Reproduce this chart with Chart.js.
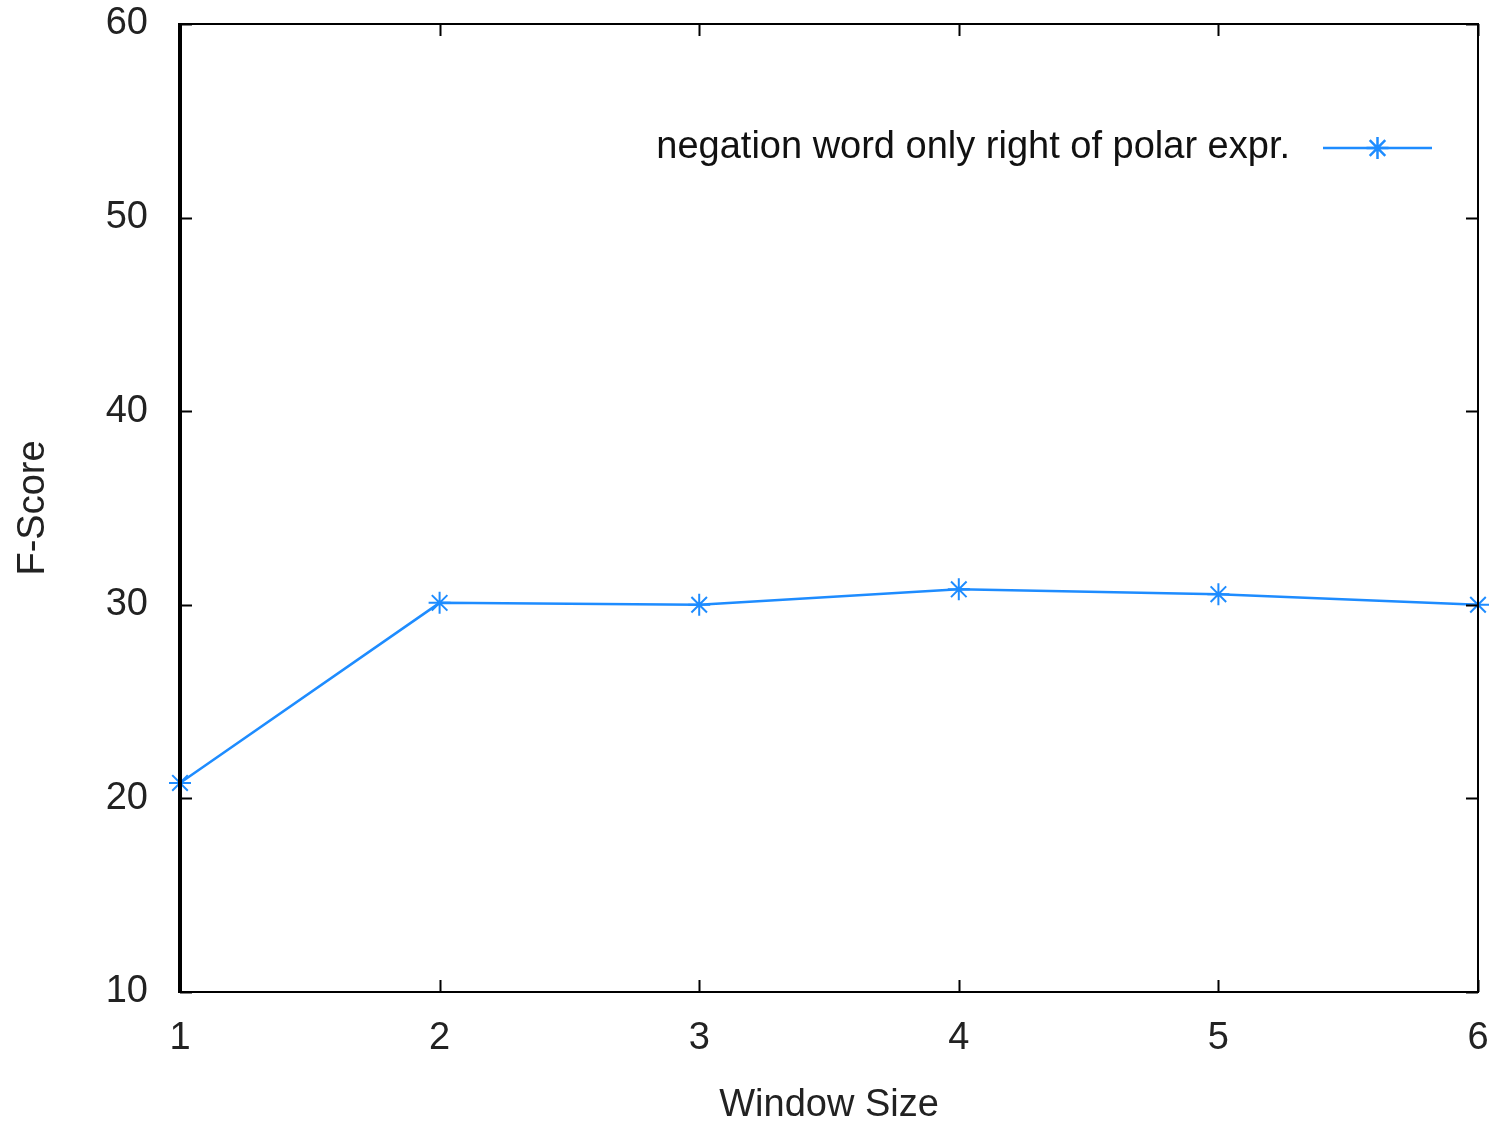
<!DOCTYPE html>
<html>
<head>
<meta charset="utf-8">
<script src="https://cdn.jsdelivr.net/npm/chart.js@4"></script>
<style>
  html, body { margin: 0; padding: 0; background: #fff; }
  #wrap { width: 1499px; height: 1122px; position: relative; }
</style>
</head>
<body>
<div id="wrap"><canvas id="c" width="1499" height="1122"></canvas></div>
<script>
// Window sizes and F-scores for the single series
const windowSizes = [1, 2, 3, 4, 5, 6];
const fScores = [20.8, 30.1, 30.0, 30.8, 30.55, 30.0];
const seriesLabel = 'negation word only right of polar expr.';
const yTicks = [10, 20, 30, 40, 50, 60];
const xTitle = 'Window Size';
const yTitle = 'F-Score';

const lineColor = '#1E8CFF';
const fontFamily = '"Liberation Sans", Arial, sans-serif';
const fontSize = 38;

// Frame with inward ticks on all four sides (mirrored)
const framePlugin = {
  id: 'frame',
  afterDatasetsDraw(chart) {
    const { ctx, chartArea: a, scales } = chart;
    ctx.save();
    ctx.strokeStyle = '#000';
    ctx.lineWidth = 2;
    const tl = 12;
    ctx.beginPath();
    windowSizes.forEach(v => {
      const px = Math.round(scales.x.getPixelForValue(v)) + 0.5;
      ctx.moveTo(px, a.bottom); ctx.lineTo(px, a.bottom - tl);
      ctx.moveTo(px, a.top); ctx.lineTo(px, a.top + tl);
    });
    yTicks.forEach(v => {
      const py = Math.round(scales.y.getPixelForValue(v)) + 0.5;
      ctx.moveTo(a.left, py); ctx.lineTo(a.left + tl, py);
      ctx.moveTo(a.right, py); ctx.lineTo(a.right - tl, py);
    });
    ctx.stroke();
    ctx.lineWidth = 2;
    ctx.strokeRect(a.left, a.top, a.right - a.left, a.bottom - a.top);
    ctx.lineWidth = 4;
    ctx.beginPath();
    ctx.moveTo(a.left, a.top - 1); ctx.lineTo(a.left, a.bottom + 1);
    ctx.stroke();
    ctx.restore();
  }
};

// Key in the top-right corner: text right-aligned, then a sample line with its marker
const keyPlugin = {
  id: 'key',
  afterDraw(chart) {
    const { ctx, chartArea: a } = chart;
    const ds = chart.data.datasets[0];
    const y = a.top + 124;
    const lineEnd = a.right - 46;
    const lineStart = lineEnd - 109;
    ctx.save();
    ctx.font = fontSize + 'px ' + fontFamily;
    ctx.fillStyle = '#111';
    ctx.textAlign = 'right';
    ctx.textBaseline = 'middle';
    ctx.fillText(seriesLabel, lineStart - 33, y);
    ctx.strokeStyle = ds.borderColor;
    ctx.lineWidth = ds.borderWidth;
    ctx.beginPath();
    ctx.moveTo(lineStart, y); ctx.lineTo(lineEnd, y);
    ctx.stroke();
    Chart.helpers.drawPoint(ctx, {
      pointStyle: ds.pointStyle, radius: ds.pointRadius, borderWidth: ds.pointBorderWidth
    }, (lineStart + lineEnd) / 2, y);
    ctx.restore();
  }
};

new Chart(document.getElementById('c'), {
  type: 'line',
  data: {
    datasets: [{
      label: seriesLabel,
      data: windowSizes.map((x, i) => ({ x, y: fScores[i] })),
      borderColor: lineColor,
      backgroundColor: lineColor,
      borderWidth: 2.5,
      pointStyle: 'star',
      pointRadius: 11,
      pointBorderWidth: 2,
      pointBorderColor: lineColor,
      fill: false,
      tension: 0,
      clip: false
    }]
  },
  options: {
    responsive: false,
    animation: false,
    devicePixelRatio: 1,
    layout: { padding: { top: 24, right: 21, left: 0, bottom: 0 } },
    plugins: { legend: { display: false }, tooltip: { enabled: false } },
    scales: {
      x: {
        type: 'linear',
        min: 1, max: 6,
        afterFit(s) { s.height = 130; s.paddingLeft = 0; s.paddingRight = 0; },
        grid: { display: false, drawTicks: false },
        border: { display: false },
        ticks: {
          stepSize: 1, padding: 24,
          color: '#222', font: { family: fontFamily, size: fontSize }
        },
        title: {
          display: true, text: xTitle, color: '#222',
          font: { family: fontFamily, size: fontSize, lineHeight: 0.85 },
          padding: { top: 0, bottom: 0 }
        }
      },
      y: {
        min: 10, max: 60,
        afterFit(s) { s.width = 180; s.paddingTop = 0; s.paddingBottom = 0; },
        grid: { display: false, drawTicks: false },
        border: { display: false },
        ticks: {
          stepSize: 10, padding: 32,
          color: '#222', font: { family: fontFamily, size: fontSize }
        },
        title: {
          display: true, text: yTitle, color: '#222',
          font: { family: fontFamily, size: fontSize, lineHeight: 1 },
          padding: { top: 15, bottom: 0 }
        }
      }
    }
  },
  plugins: [framePlugin, keyPlugin]
});
</script>
</body>
</html>
